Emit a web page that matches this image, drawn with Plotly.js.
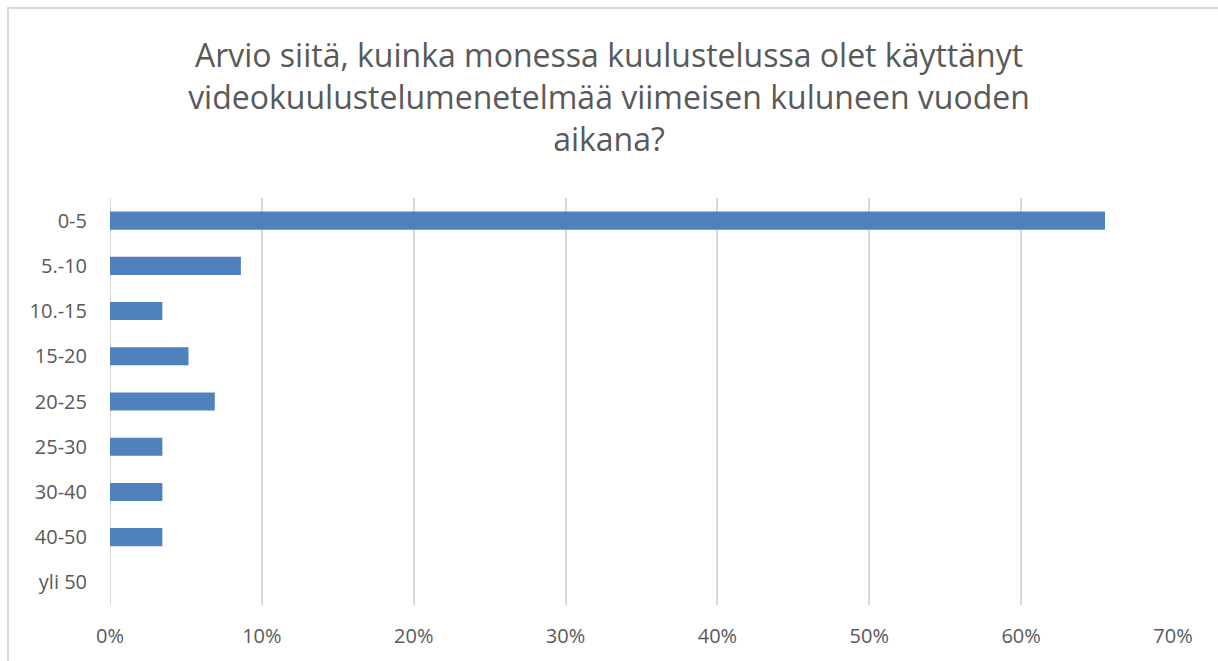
<!DOCTYPE html>
<html>
<head>
<meta charset="utf-8">
<script src="https://cdn.plot.ly/plotly-3.0.1.min.js"></script>
<style>
html,body{margin:0;padding:0;background:#fff;overflow:hidden;}
#chart{position:absolute;left:0;top:0;width:1218px;height:661px;}
#frame{position:absolute;left:7px;top:7px;width:1300px;height:700px;border-left:2px solid #d9d9d9;border-top:2px solid #d9d9d9;pointer-events:none;}
</style>
</head>
<body>
<div id="chart"></div>
<div id="frame"></div>
<script>
const categories = ["0-5", "5.-10", "10.-15", "15-20", "20-25", "25-30", "30-40", "40-50", "yli 50"];
const shares = [0.6552, 0.0862, 0.0345, 0.0517, 0.0690, 0.0345, 0.0345, 0.0345, 0];
const tickValues = [0, 0.1, 0.2, 0.3, 0.4, 0.5, 0.6, 0.7];
const tickLabels = ["0%", "10%", "20%", "30%", "40%", "50%", "60%", "70%"];
const titleText = "Arvio siitä, kuinka monessa kuulustelussa olet käyttänyt<br>videokuulustelumenetelmää viimeisen kuluneen vuoden<br>aikana?";

const fontFam = "'Open Sans', 'Noto Sans', sans-serif";

const trace = {
  type: "bar",
  orientation: "h",
  y: categories,
  x: shares,
  marker: {color: "#4f81bd", line: {width: 0}},
  hoverinfo: "x+y"
};

const layout = {
  width: 1218,
  height: 661,
  paper_bgcolor: "#ffffff",
  plot_bgcolor: "#ffffff",
  margin: {l: 110, r: 45, t: 198, b: 56},
  bargap: 0.6,
  showlegend: false,
  title: {
    text: titleText,
    font: {family: fontFam, size: 32, color: "#595959"},
    x: 0.5, xanchor: "center",
    y: 0.898, yanchor: "middle", yref: "container"
  },
  xaxis: {
    range: [0, 0.7],
    tickvals: tickValues,
    ticktext: tickLabels,
    showgrid: true,
    gridcolor: "#d9d9d9",
    gridwidth: 2,
    zeroline: false,
    showline: false,
    ticks: "",
    ticklabelstandoff: 17,
    tickfont: {family: fontFam, size: 20, color: "#595959"},
    fixedrange: true
  },
  yaxis: {
    type: "category",
    categoryorder: "array",
    categoryarray: categories,
    autorange: "reversed",
    showgrid: false,
    zeroline: false,
    showline: false,
    ticks: "",
    ticklabelstandoff: 22,
    tickfont: {family: fontFam, size: 20, color: "#595959"},
    fixedrange: true
  },
  shapes: [{
    type: "line", xref: "x", yref: "paper",
    x0: 0, x1: 0, y0: 0, y1: 1,
    line: {color: "#d9d9d9", width: 2}, layer: "below"
  }]
};

Plotly.newPlot("chart", [trace], layout, {displayModeBar: false, staticPlot: true});
</script>
</body>
</html>
